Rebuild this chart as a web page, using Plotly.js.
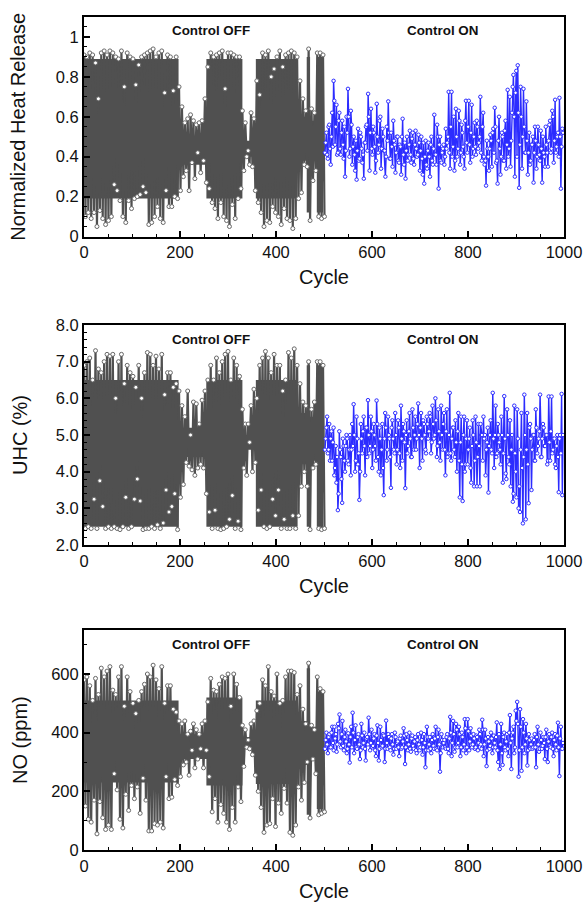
<!DOCTYPE html>
<html><head><meta charset="utf-8">
<script src="https://cdn.plot.ly/plotly-3.0.1.min.js"></script>
<style>html,body{margin:0;padding:0;background:#fff}</style></head>
<body><div id="chart" style="width:585px;height:902px"></div>
<script>
const heatOff=[.91,.10,.90,.12,.92,.09,.91,.12,.87,.05,.69,.13,.92,.09,.93,.06,.91,.08,.93,.10,.92,.26,.90,.23,.89,.18,.93,.10,.75,.07,.92,.18,.90,.14,.89,.19,.76,.20,.86,.21,.90,.25,.91,.22,.92,.06,.93,.07,.94,.10,.90,.15,.92,.09,.93,.07,.72,.23,.91,.15,.90,.15,.73,.20,.90,.19,.75,.23,
.65,.30,.57,.33,.59,.23,.61,.37,.58,.29,.56,.42,.57,.32,.58,.38,.69,.27,
.85,.24,.92,.17,.90,.14,.91,.09,.92,.17,.93,.10,.74,.08,.92,.05,.92,.16,.91,.09,.90,.19,.90,.24,
.63,.33,.57,.40,.43,.36,.62,.35,.59,.23,
.78,.17,.71,.12,.92,.05,.91,.08,.93,.07,.80,.15,.84,.12,.90,.10,.93,.06,.85,.14,.91,.09,.92,.08,.93,.04,.92,.09,.90,.19,
.78,.22,.69,.36,.63,.35,.94,.08,.64,.28,.62,.33,.92,.10,.92,.09,.91,.10];
const heatOn=[.42,.52,.39,.56,.36,.62,.78,.46,.66,.42,.62,.41,.58,.39,.30,.60,.74,.40,.63,.36,.50,.33,.285,.54,.39,.50,.37,.29,.47,.56,.715,.33,.64,.41,.52,.32,.665,.42,.58,.34,.54,.43,.30,.55,.677,.39,.52,.35,.48,.32,.50,.38,.46,.31,.59,.36,.29,.50,.41,.53,.37,.52,.36,.53,.40,.51,.33,.50,.31,.265,.48,.34,.47,.30,.50,.36,.61,.41,.56,.24,.50,.37,.44,.36,.54,.47,.725,.34,.725,.45,.33,.64,.40,.63,.36,.56,.45,.34,.68,.42,.68,.37,.66,.44,.57,.41,.55,.47,.70,.38,.62,.36,.255,.44,.33,.51,.35,.54,.645,.37,.265,.60,.31,.52,.38,.53,.34,.735,.44,.35,.62,.81,.30,.83,.858,.244,.75,.34,.74,.42,.677,.31,.52,.38,.46,.27,.55,.34,.55,.41,.53,.27,.42,.35,.46,.35,.56,.42,.63,.37,.685,.45,.52,.695,.24,.54];
const heatOnMid=[.47,.41,.55,.44,.50,.45,.68,.55,.41,.58,.44,.52,.46,.55,.43,.52,.60,.44,.56,.45,.41,.48,.43,.38,.52,.44,.41,.47,.55,.43,.60,.52,.44,
.55,.45,.38,.50,.46,.60,.44,.50,.43,.40,.48,.52,.39,.45,.58,.46,.42,.50,.37,.45,.50,.41,.47,.43,.38,.46,.41,.49,.39,.46,.44,.41,.47,
.43,.39,.47,.40,.36,.43,.40,.46,.38,.44,.41,.36,.50,.46,.38,.42,.46,.40,.44,.50,.42,.55,.40,.60,.38,.50,.44,.58,.42,.52,.40,.58,.47,
.55,.46,.52,.40,.50,.45,.58,.44,.50,.42,.55,.40,.38,.48,.40,.44,.48,.52,.42,.55,.38,.48,.44,.40,.50,.38,.58,.46,.40,.70,.48,.75,.60,
.72,.40,.62,.46,.60,.50,.55,.42,.48,.42,.36,.46,.50,.42,.48,.40,.46,.38,.44,.50,.40,.55,.42,.48,.58,.44,.60,.48,.42,.50,.40,.50,.45,.52];
const uhcOff=[6.9,2.45,7.0,2.5,7.1,2.45,6.5,3.25,7.3,2.45,6.8,3.75,6.7,3.05,7.0,2.45,7.2,2.5,7.15,2.45,7.2,2.5,6.0,2.45,7.0,2.42,7.2,2.5,6.4,3.3,6.9,2.45,6.7,2.5,6.6,3.25,6.3,3.8,6.9,3.2,6.0,2.42,6.7,2.45,7.25,2.45,7.2,2.5,6.9,2.45,7.15,2.55,6.8,2.45,7.2,2.6,6.1,3.5,6.7,2.9,6.7,3.05,6.3,3.4,6.4,2.42,6.2,3.3,
5.8,3.65,5.5,4.25,6.2,4.15,5.0,4.05,5.9,3.9,5.85,4.1,5.3,4.2,5.95,4.1,6.2,3.4,
6.5,2.9,6.9,2.45,6.5,2.95,7.1,2.45,6.7,2.42,7.0,2.45,7.2,2.5,7.28,2.7,6.5,3.35,7.1,2.45,6.9,2.65,6.6,2.42,
5.7,4.1,5.3,3.9,5.3,4.8,5.8,4.0,6.25,4.25,
6.0,2.95,6.9,3.5,7.1,2.5,7.28,2.45,7.1,2.5,6.7,3.25,7.2,2.8,6.9,3.5,6.9,2.45,6.2,2.7,6.5,2.45,7.25,2.45,7.1,2.8,7.35,2.45,6.9,2.8,
6.4,3.6,5.9,4.0,5.8,3.6,7.0,2.42,5.7,4.1,5.9,4.2,7.0,2.45,7.0,2.42,6.9,2.45];
const uhcOn=[4.6,5.2,4.5,5.3,4.9,4.3,5.2,4.1,3.7,2.95,5.1,4.4,3.15,4.7,4.0,5.0,4.3,4.6,3.9,5.3,5.84,4.0,5.5,4.2,3.23,5.3,4.5,5.5,3.9,5.2,5.95,4.5,5.5,4.1,5.3,4.7,5.94,4.4,5.2,3.9,5.3,3.36,5.6,4.3,5.5,4.9,3.56,5.4,4.6,5.6,4.2,5.4,4.5,5.8,4.3,5.1,3.55,5.4,4.7,5.6,4.4,5.7,4.6,5.5,4.9,5.86,4.1,5.6,4.3,5.3,4.6,5.5,4.9,5.6,4.5,5.8,4.9,6.0,4.4,5.7,4.8,5.8,4.6,5.6,3.9,5.7,4.5,6.15,4.3,5.2,4.6,5.4,4.0,5.6,3.3,5.5,3.2,5.5,4.2,5.4,4.6,5.2,3.7,5.4,3.6,5.5,3.6,5.3,3.6,5.0,4.3,4.9,3.9,4.8,3.43,5.0,4.6,6.15,4.1,5.8,4.5,5.0,4.6,5.5,3.7,6.06,3.95,5.7,4.4,5.4,4.6,3.18,5.8,4.0,5.7,3.0,2.9,5.6,2.59,6.1,2.7,5.6,3.14,5.3,3.5,5.0,4.3,5.7,4.5,4.9,6.1,4.4,5.3,4.7,5.0,4.2,6.05,4.3,6.05,4.6,4.9,4.1,5.0,3.44,5.0,6.12,3.36,5.0];
const uhcOnMid=[4.9,5.5,4.6,4.3,5.1,4.8,3.9,4.7,4.4,3.4,4.6,3.8,4.9,4.3,4.7,4.9,4.2,5.0,4.6,4.7,5.0,4.3,4.9,4.5,4.0,4.9,5.1,4.7,5.2,4.4,5.0,4.7,5.1,
4.6,5.0,4.3,5.3,4.0,4.9,4.6,4.1,4.9,5.2,4.6,5.0,4.4,5.2,4.9,4.5,5.0,4.6,5.2,4.1,4.9,5.3,4.8,5.0,4.5,5.1,4.9,4.4,5.2,5.0,4.6,5.3,5.0,
5.2,4.9,5.4,5.0,4.5,5.3,5.1,5.5,4.8,5.3,5.0,5.4,4.7,5.1,4.3,5.0,5.3,4.6,5.1,4.4,5.0,4.5,4.9,5.2,4.4,4.8,5.1,4.3,4.8,4.2,5.0,4.0,4.9,
4.2,4.9,4.1,4.7,5.0,4.3,4.8,4.4,4.7,5.3,5.0,5.5,5.0,4.6,5.2,4.7,5.4,4.5,4.9,5.0,4.4,5.3,4.8,4.2,5.0,4.5,4.9,3.8,5.0,4.2,3.6,5.0,3.4,
4.5,3.3,4.9,3.6,4.6,4.1,4.4,5.0,4.6,4.2,5.2,4.9,4.6,5.0,4.3,5.2,4.7,5.1,4.4,4.9,5.2,4.7,5.0,4.3,4.8,5.1,4.5,4.9,4.2,4.7,4.4,4.9,4.5];
const noOff=[580,150,590,105,560,95,510,170,585,55,530,165,620,110,590,70,610,85,625,70,545,260,530,205,590,105,625,75,490,190,590,135,540,220,500,175,465,215,510,125,540,245,565,170,600,65,590,65,630,90,580,85,550,95,625,75,500,250,560,175,560,180,480,240,470,220,440,250,
430,290,440,300,395,255,405,340,430,280,410,310,395,345,430,280,440,340,
505,250,585,130,545,175,540,95,565,155,590,125,585,95,600,70,490,145,600,95,565,215,520,165,
425,285,410,350,375,345,430,325,440,255,
475,200,500,145,580,60,560,85,625,90,540,175,525,80,600,160,500,125,510,210,590,160,610,60,610,50,605,85,530,215,
560,170,480,230,430,300,637,109,425,310,410,260,590,120,550,125,540,130];
const noOn=[345,400,330,395,350,420,340,380,335,430,462,350,440,340,410,330,398,298,420,468,330,425,345,395,310,430,350,400,305,385,451,340,410,
355,395,320,425,305,420,350,395,300,441,345,385,340,395,325,400,345,370,320,390,350,415,293,395,340,400,335,390,345,385,330,395,340,
400,325,395,282,420,340,385,330,395,345,420,340,410,267,395,350,375,345,395,330,454,320,440,335,430,350,420,320,400,340,446,330,446,
340,415,350,395,345,390,340,410,360,444,320,410,286,385,345,400,330,390,350,435,300,276,430,290,400,340,395,320,460,276,400,330,475,
505,250,480,270,446,330,430,288,395,345,380,350,395,282,420,335,400,345,385,310,410,300,395,350,400,320,395,340,434,252,420,345];
const noOnMid=[375,360,385,350,400,365,420,395,360,415,370,395,355,385,370,345,360,385,350,400,375,350,385,360,340,390,365,345,380,360,395,365,350,
380,340,390,365,345,375,355,390,345,365,395,350,380,360,345,385,365,350,380,345,370,390,350,375,360,345,380,355,370,340,375,360,350,
375,350,365,340,385,360,345,375,355,380,345,385,360,330,375,365,350,385,345,380,400,365,395,350,410,365,395,350,385,360,415,350,405,
370,390,360,380,350,385,365,395,345,410,360,380,340,370,355,380,350,365,385,340,395,360,330,385,350,370,345,400,365,380,420,350,440,
430,340,420,350,400,360,380,340,375,360,345,375,350,385,360,345,375,355,365,385,345,370,355,385,345,375,360,390,350,380,345,365];
// Cycle ranges of the oscillating bursts, and the level of the solid dark body in each range
const bodyCycles=[0,197,255,330,358,445,464,471,485,498];
const heatBodyTop=[.89,.50,.89,.48,.89,.60,.90,.58,.90];
const heatBodyBottom=[.19,.36,.19,.40,.19,.38,.12,.38,.12];
const uhcBodyTop=[6.5,5.2,6.5,5.0,6.5,5.6,6.9,5.5,6.9];
const uhcBodyBottom=[2.5,4.4,2.5,4.6,2.5,4.2,2.5,4.3,2.5];
const noBodyTop=[510,395,520,385,510,440,620,420,540];
const noBodyBottom=[230,310,220,350,225,290,120,310,140];
const yTitles=["Normalized Heat Release","UHC (%)","NO (ppm)"];
const xTitle="Cycle", offLabel="Control OFF", onLabel="Control ON";
const xTicks=[0,200,400,600,800,1000];

const W=585,H=902,L=84,R=564;
const tops=[17,325,630], bots=[236.5,545,850];
const ranges=[[0,1.1],[2,8],[0,750]];
const yTickVals=[[0,.2,.4,.6,.8,1],[2,3,4,5,6,7,8],[0,200,400,600]];
const yTickText=[["0","0.2","0.4","0.6","0.8","1"],["2.0","3.0","4.0","5.0","6.0","7.0","8.0"],["0","200","400","600"]];
const minors=[.05,.2,100];
const offs=[heatOff,uhcOff,noOff], ons=[heatOn,uhcOn,noOn], mids=[heatOnMid,uhcOnMid,noOnMid];
const bodyTops=[heatBodyTop,uhcBodyTop,noBodyTop], bodyBottoms=[heatBodyBottom,uhcBodyBottom,noBodyBottom];
const titleX=[18,20,20];
const fam='"Liberation Sans",Arial,sans-serif', ink='#111';
const traces=[],layout={width:W,height:H,margin:{l:0,r:0,t:0,b:0},showlegend:false,paper_bgcolor:'#fff',plot_bgcolor:'#fff',font:{family:fam,color:ink},annotations:[]};
const DARK='#505050', BLUE='#2c2cff';
for(let p=0;p<3;p++){
  const s=p?String(p+1):'';
  const ax='x'+s, ay='y'+s;
  const off=offs[p], xOff=off.map((_,i)=>i*3);
  const bx=[],bt=[],bb=[];
  bodyTops[p].forEach((t,i)=>{bx.push(bodyCycles[i],bodyCycles[i+1]);bt.push(t,t);bb.push(bodyBottoms[p][i],bodyBottoms[p][i]);});
  traces.push({x:bx,y:bb,xaxis:ax,yaxis:ay,type:'scatter',mode:'lines',line:{width:0,color:DARK}});
  traces.push({x:bx,y:bt,xaxis:ax,yaxis:ay,type:'scatter',mode:'lines',line:{width:0,color:DARK},fill:'tonexty',fillcolor:DARK});
  traces.push({x:xOff,y:off,xaxis:ax,yaxis:ay,type:'scatter',mode:'lines+markers',
    line:{color:DARK,width:2.2},marker:{size:4,color:'#fff',line:{color:'#686868',width:1}}});
  const on=[];
  for(let i=0;i<Math.max(ons[p].length,mids[p].length);i++){ if(i<ons[p].length)on.push(ons[p][i]); if(i<mids[p].length)on.push(mids[p][i]); }
  traces.push({x:on.map((_,i)=>502+i*496/(on.length-1)),y:on,xaxis:ax,yaxis:ay,type:'scatter',mode:'lines+markers',
    line:{color:BLUE,width:1.4},marker:{size:3.5,color:'#fff',line:{color:BLUE,width:1}}});
  const common={showgrid:false,zeroline:false,showline:true,linecolor:'#000',linewidth:2,mirror:true,ticks:'inside',tickcolor:'#000',tickwidth:2,ticklen:6};
  layout['xaxis'+s]=Object.assign({},common,{anchor:ay,domain:[L/W,R/W],range:[0,1000],tickmode:'array',tickvals:xTicks,
    tickfont:{size:16.5,family:fam,color:ink},minor:{dtick:50,ticks:'inside',ticklen:3,tickwidth:1,tickcolor:'#000',showgrid:false},
    title:{text:xTitle,font:{size:20,family:fam,color:ink},standoff:10}});
  layout['yaxis'+s]=Object.assign({},common,{anchor:ax,domain:[1-bots[p]/H,1-tops[p]/H],range:ranges[p],tickmode:'array',tickvals:yTickVals[p],ticktext:yTickText[p],
    tickfont:{size:16.5,family:fam,color:ink},minor:{dtick:minors[p],ticks:'inside',ticklen:3,tickwidth:1,tickcolor:'#000',showgrid:false}});
  const span=ranges[p][1]-ranges[p][0];
  const ya=ranges[p][0]+span*(bots[p]-(tops[p]+14))/(bots[p]-tops[p]);
  layout.annotations.push({xref:ax,yref:ay,x:265,y:ya,text:'<b>'+offLabel+'</b>',showarrow:false,font:{size:13.4,family:fam,color:ink}});
  layout.annotations.push({xref:ax,yref:ay,x:746,y:ya,text:'<b>'+onLabel+'</b>',showarrow:false,font:{size:13.4,family:fam,color:ink}});
  layout.annotations.push({xref:'paper',yref:'paper',x:titleX[p]/W,y:1-(tops[p]+bots[p])/2/H,xanchor:'center',yanchor:'middle',text:yTitles[p],textangle:-90,showarrow:false,font:{size:20,family:fam,color:ink}});
}
Plotly.newPlot('chart',traces,layout,{displayModeBar:false,staticPlot:true});
</script></body></html>
